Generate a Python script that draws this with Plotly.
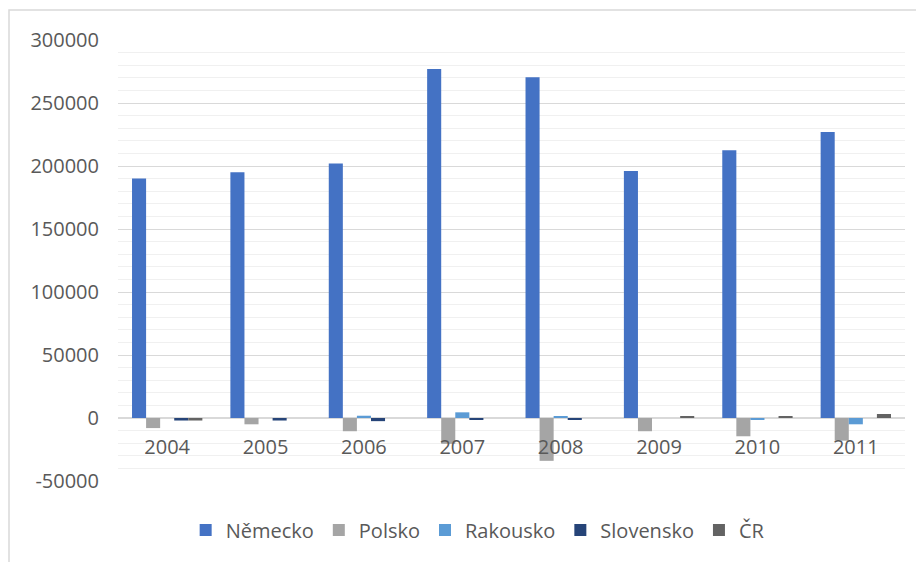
import plotly.graph_objects as go

# roky a hodnoty
roky = ["2004", "2005", "2006", "2007", "2008", "2009", "2010", "2011"]
nemecko = [190000, 195000, 202000, 277000, 270500, 196000, 212500, 227000]
polsko = [-8000, -5000, -10500, -20500, -34000, -10500, -14500, -18000]
rakousko = [0, 0, 1800, 4500, 1000, 0, -1000, -5000]
slovensko = [-2000, -2000, -2500, -1500, -1500, 0, 0, 0]
cr = [-2000, 0, 0, 0, 0, 1600, 1000, 3200]

# popisky osy y (Excel používá obyčejný spojovník)
y_ticks = [-50000, 0, 50000, 100000, 150000, 200000, 250000, 300000]
y_labels = ["-50000", "0", "50000", "100000", "150000", "200000", "250000", "300000"]

serie = [
    ("Německo", nemecko, "#4472C4"),
    ("Polsko", polsko, "#A5A5A5"),
    ("Rakousko", rakousko, "#5B9BD5"),
    ("Slovensko", slovensko, "#264478"),
    ("ČR", cr, "#636363"),
]

fig = go.Figure()
for nazev, hodnoty, barva in serie:
    fig.add_trace(go.Bar(x=roky, y=hodnoty, name=nazev, marker_color=barva,
                         marker_line_width=0))

# stránka má okraj 8 px, proto menší rozměry
fig.update_layout(
    width=916, height=554,
    margin=dict(l=110, r=19, t=32, b=81),
    plot_bgcolor="white", paper_bgcolor="white",
    barmode="group", bargap=0.285, bargroupgap=0,
    font=dict(family="Open Sans", size=20, color="#595959"),
    legend=dict(orientation="h", x=0.457, xanchor="center", y=-0.111, yanchor="middle",
                font=dict(size=20, color="#595959"), itemwidth=30),
    shapes=[dict(type="rect", xref="paper", yref="paper", x0=-0.1385, x1=1.1,
                 y0=-0.3, y1=1.068, line=dict(color="#D9D9D9", width=1.5),
                 layer="below")],
)
fig.update_xaxes(anchor="free", position=1/7, showline=False, ticks="",
                 ticklabelstandoff=15,
                 tickfont=dict(size=20, color="#595959"))
fig.update_yaxes(range=[-50000, 300000], tickvals=y_ticks, ticktext=y_labels,
                 showgrid=True, gridcolor="#D9D9D9", gridwidth=1,
                 zeroline=True, zerolinecolor="#D9D9D9", zerolinewidth=1.5,
                 ticklabelstandoff=18,
                 minor=dict(dtick=10000, showgrid=True, gridcolor="#F0F0F0", gridwidth=1))

fig.write_html("out.html")
